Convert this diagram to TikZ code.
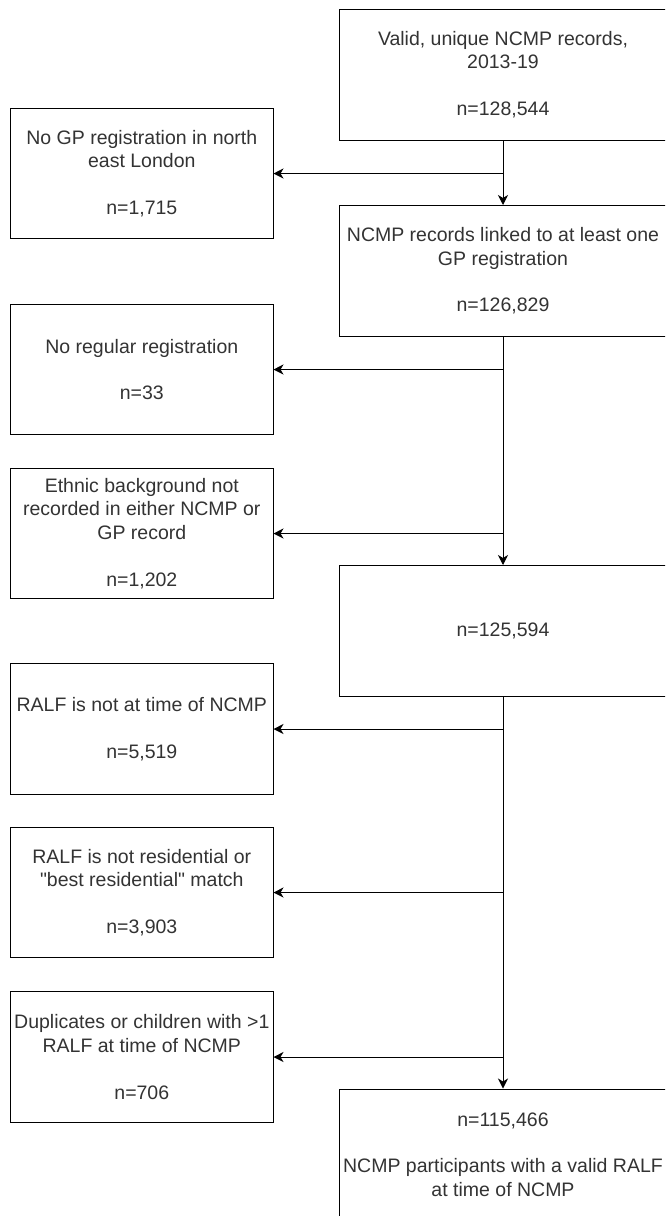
\documentclass[tikz,border=0pt]{standalone}
\usepackage{fontspec}
\setmainfont{Liberation Sans}[Ligatures=TeXOff]
\usetikzlibrary{arrows.meta}
\definecolor{txt}{HTML}{333333}
\tikzset{
  box/.style={draw=black, line width=1pt, fill=white, text=txt, align=center,
    inner xsep=2pt, inner ysep=0pt,
    font=\fontsize{19.5pt}{23.4pt}\selectfont},
  lbox/.style={box, minimum width=262.4pt, minimum height=130.5pt},
  rbox/.style={box, minimum width=328pt, minimum height=131pt},
  conn/.style={draw=black, line width=1pt},
  arr/.style={conn, -{Stealth[length=10pt,width=10pt,inset=3pt]}}
}
\begin{document}
\begin{tikzpicture}[x=1pt,y=-1pt]
\useasboundingbox (0,0) rectangle (665,1216);
\fill[white] (0,0) rectangle (665,1216);
\clip (0,0) rectangle (665,1216);

\node[rbox] (r1) at (503,74.5) {Valid, unique NCMP records,\\2013-19\\[23.4pt]n=128,544};
\node[rbox] (r2) at (503,271) {NCMP records linked to at least one\\GP registration\\[23.4pt]n=126,829};
\node[rbox] (r3) at (503,631) {n=125,594};
\node[rbox] (r4) at (503,1154.5) {n=115,466\\[23.4pt]NCMP participants with a valid RALF\\at time of NCMP};

\node[lbox] (l1) at (141.8,173.5) {No GP registration in north\\east London\\[23.4pt]n=1,715};
\node[lbox] (l2) at (141.8,369.5) {No regular registration\\[23.4pt]n=33};
\node[lbox] (l3) at (141.8,533.5) {Ethnic background not\\recorded in either NCMP or\\GP record\\[23.4pt]n=1,202};
\node[lbox] (l4) at (141.8,729) {RALF is not at time of NCMP\\[23.4pt]n=5,519};
\node[lbox] (l5) at (141.8,892.5) {RALF is not residential or\\"best residential" match\\[23.4pt]n=3,903};
\node[lbox] (l6) at (141.8,1057) {Duplicates or children with >1\\RALF at time of NCMP\\[23.4pt]n=706};

\draw[arr] (r1.south) -- (r2.north);
\draw[arr] (r2.south) -- (r3.north);
\draw[arr] (r3.south) -- (r4.north);

\draw[arr] (r1.south |- l1.east) -- (l1.east);
\draw[arr] (r2.south |- l2.east) -- (l2.east);
\draw[arr] (r2.south |- l3.east) -- (l3.east);
\draw[arr] (r3.south |- l4.east) -- (l4.east);
\draw[arr] (r3.south |- l5.east) -- (l5.east);
\draw[arr] (r3.south |- l6.east) -- (l6.east);
\end{tikzpicture}
\end{document}
